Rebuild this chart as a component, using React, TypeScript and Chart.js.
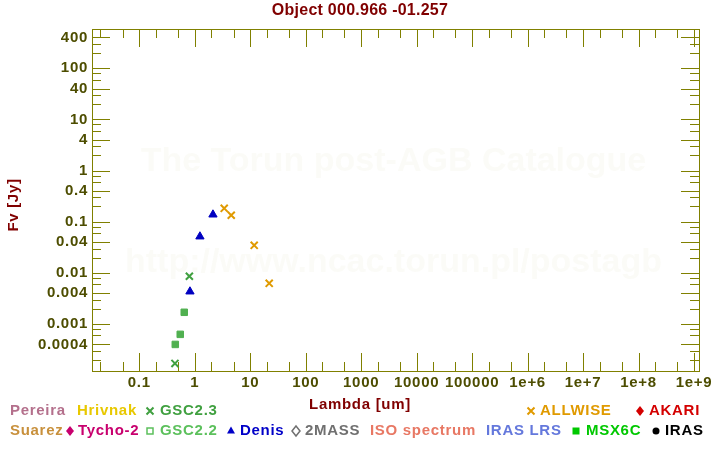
import React, { useEffect, useRef } from 'react';
import { Chart, registerables } from 'chart.js';

Chart.register(...registerables);

// ---- data ----
const denisLambda = [0.82, 1.24, 2.13];
const denisFlux = [0.00432, 0.0514, 0.138];

const gsc23Lambda = [0.44, 0.8];
const gsc23Flux = [0.00017, 0.0086];

const gsc22Lambda = [0.446, 0.548, 0.647];
const gsc22Flux = [0.0004, 0.00063, 0.0017];

const allwiseLambda = [3.4, 4.55, 11.8, 22.0];
const allwiseFlux = [0.183, 0.134, 0.0346, 0.00625];

const xTickValues = [0.1, 1, 10, 100, 1000, 10000, 100000, 1e6, 1e7, 1e8, 1e9];
const xTickLabels = ['0.1', '1', '10', '100', '1000', '10000', '100000', '1e+6', '1e+7', '1e+8', '1e+9'];
const yTickValues = [0.0004, 0.001, 0.004, 0.01, 0.04, 0.1, 0.4, 1, 4, 10, 40, 100, 400];
const yTickLabels = ['0.0004', '0.001', '0.004', '0.01', '0.04', '0.1', '0.4', '1', '4', '10', '40', '100', '400'];

const titleText = 'Object 000.966 -01.257';
const xTitle = 'Lambda [um]';
const yTitle = 'Fv [Jy]';
const watermark1 = 'The Torun post-AGB Catalogue';
const watermark2 = 'http://www.ncac.torun.pl/postagb';

const FONT = "'Liberation Sans', Arial, Helvetica, sans-serif";
const AXIS = '#808000';
const TICKTXT = '#4d4d00';
const DARKRED = '#800000';

function toPoints(xs: number[], ys: number[]) {
  return xs.map((x, i) => ({ x, y: ys[i] }));
}

function setSpacing(ctx: any, v: string) {
  try { ctx.letterSpacing = v; } catch (e) { /* ignore */ }
}

function drawMarker(ctx: CanvasRenderingContext2D, kind: string, x: number, y: number, color: string) {
  ctx.save();
  ctx.fillStyle = color;
  ctx.strokeStyle = color;
  ctx.lineWidth = 2;
  const r = 3.5;
  ctx.beginPath();
  if (kind === 'x') {
    ctx.moveTo(x - r, y - r); ctx.lineTo(x + r, y + r);
    ctx.moveTo(x + r, y - r); ctx.lineTo(x - r, y + r);
    ctx.stroke();
  } else if (kind === 'diamond' || kind === 'diamondOpen') {
    ctx.moveTo(x, y - 5); ctx.lineTo(x + 4, y); ctx.lineTo(x, y + 5); ctx.lineTo(x - 4, y); ctx.closePath();
    if (kind === 'diamond') ctx.fill(); else { ctx.lineWidth = 1.5; ctx.stroke(); }
  } else if (kind === 'square') {
    ctx.rect(x - 3.5, y - 3.5, 7, 7); ctx.fill();
  } else if (kind === 'squareOpen') {
    ctx.lineWidth = 1.5; ctx.rect(x - 3, y - 3, 6, 6); ctx.stroke();
  } else if (kind === 'triangle') {
    ctx.moveTo(x, y - 4.5); ctx.lineTo(x + 4, y + 2.5); ctx.lineTo(x - 4, y + 2.5); ctx.closePath(); ctx.fill();
  } else if (kind === 'circle') {
    ctx.arc(x, y, 3.5, 0, Math.PI * 2); ctx.fill();
  }
  ctx.restore();
}

const decorPlugin = {
  id: 'decor',
  beforeDraw(chart: any) {
    setSpacing(chart.ctx, '0.7px');
  },
  beforeDatasetsDraw(chart: any) {
    const ctx: CanvasRenderingContext2D = chart.ctx;
    const a = chart.chartArea;
    const xs = chart.scales.x;
    const ys = chart.scales.y;
    ctx.save();
    // watermark
    setSpacing(ctx, '0px');
    ctx.fillStyle = 'rgba(235,235,215,0.2)';
    ctx.font = `bold 34px ${FONT}`;
    ctx.textAlign = 'center';
    ctx.textBaseline = 'middle';
    const cx = (a.left + a.right) / 2 - 2;
    ctx.fillText(watermark1, cx, 162);
    ctx.fillText(watermark2, cx, 263);

    // frame
    ctx.strokeStyle = AXIS;
    ctx.lineWidth = 1;
    ctx.strokeRect(a.left + 0.5, a.top + 0.5, a.right - a.left, a.bottom - a.top);

    ctx.beginPath();
    for (let d = -2; d <= 9; d++) {
      for (const m of [1, 2, 5]) {
        const v = m * Math.pow(10, d);
        if (v < xs.min || v > xs.max) continue;
        const px = Math.round(xs.getPixelForValue(v)) + 0.5;
        const len = m === 1 ? 18 : 9;
        ctx.moveTo(px, a.bottom); ctx.lineTo(px, a.bottom - len);
        ctx.moveTo(px, a.top); ctx.lineTo(px, a.top + len);
      }
    }
    for (let d = -5; d <= 3; d++) {
      for (const m of [1, 2, 3, 4, 6, 8]) {
        const v = m * Math.pow(10, d);
        if (v < ys.min || v > ys.max) continue;
        const py = Math.round(ys.getPixelForValue(v)) + 0.5;
        const len = m === 1 || m === 4 ? 18 : 9;
        ctx.moveTo(a.left, py); ctx.lineTo(a.left + len, py);
        ctx.moveTo(a.right, py); ctx.lineTo(a.right - len, py);
      }
    }
    ctx.stroke();
    ctx.restore();
  },
  afterDraw(chart: any) {
    const ctx: CanvasRenderingContext2D = chart.ctx;
    ctx.save();
    ctx.textBaseline = 'middle';
    // title
    setSpacing(ctx, '0.25px');
    ctx.fillStyle = DARKRED;
    ctx.font = `bold 16px ${FONT}`;
    ctx.textAlign = 'center';
    ctx.fillText(titleText, 360, 11);

    setSpacing(ctx, '0.7px');
    ctx.font = `bold 15px ${FONT}`;
    ctx.fillText(xTitle, 360, 405);

    ctx.save();
    ctx.translate(14, 205);
    ctx.rotate(-Math.PI / 2);
    ctx.fillText(yTitle, 0, 0);
    ctx.restore();

    // legend
    ctx.textAlign = 'left';
    const r1 = 411;
    const r2 = 431;
    const items: [string, string, number, number, string, number][] = [
      ['Pereira', '#b4708c', 10, r1, '', 0],
      ['Hrivnak', '#e8c800', 77, r1, '', 0],
      ['GSC2.3', '#40a040', 160, r1, 'x', 150],
      ['ALLWISE', '#e09a00', 540, r1, 'x', 531],
      ['AKARI', '#d40000', 649, r1, 'diamond', 640],
      ['Suarez', '#c8903c', 10, r2, '', 0],
      ['Tycho-2', '#c8006e', 78, r2, 'diamond', 70],
      ['GSC2.2', '#5cc05c', 160, r2, 'squareOpen', 150],
      ['Denis', '#0000c8', 240, r2, 'triangle', 231],
      ['2MASS', '#707070', 305, r2, 'diamondOpen', 296],
      ['ISO spectrum', '#e87864', 370, r2, '', 0],
      ['IRAS LRS', '#6478dc', 486, r2, '', 0],
      ['MSX6C', '#00c800', 586, r2, 'square', 576],
      ['IRAS', '#000000', 665, r2, 'circle', 656],
    ];
    for (const [name, color, tx, ty, mk, mx] of items) {
      ctx.fillStyle = color;
      ctx.fillText(name, tx, ty);
      if (mk) drawMarker(ctx, mk, mx, ty, color);
    }
    ctx.restore();
  },
};

export default function App() {
  const ref = useRef<HTMLCanvasElement | null>(null);
  useEffect(() => {
    if (!ref.current) return;
    const tickFont = { family: FONT, size: 15, weight: 'bold' as const };
    const chart = new Chart(ref.current, {
      type: 'scatter',
      data: {
        datasets: [
          {
            label: 'GSC2.2',
            data: toPoints(gsc22Lambda, gsc22Flux),
            pointStyle: 'rect',
            pointRadius: 4.6,
            backgroundColor: '#50b050',
            borderColor: '#50b050',
            borderWidth: 1,
          },
          {
            label: 'GSC2.3',
            data: toPoints(gsc23Lambda, gsc23Flux),
            pointStyle: 'crossRot',
            pointRadius: 5,
            borderColor: '#40a040',
            backgroundColor: '#40a040',
            borderWidth: 2,
          },
          {
            label: 'Denis',
            data: toPoints(denisLambda, denisFlux),
            pointStyle: 'triangle',
            pointRadius: 4.8,
            backgroundColor: '#0000c0',
            borderColor: '#0000c0',
            borderWidth: 1,
          },
          {
            label: 'ALLWISE',
            data: toPoints(allwiseLambda, allwiseFlux),
            pointStyle: 'crossRot',
            pointRadius: 5,
            borderColor: '#e09a00',
            backgroundColor: '#e09a00',
            borderWidth: 2,
          },
        ],
      },
      options: {
        animation: false,
        responsive: false,
        devicePixelRatio: 1,
        layout: { padding: { top: 29, right: 21, left: 0, bottom: 0 } },
        plugins: { legend: { display: false }, title: { display: false }, tooltip: { enabled: false } },
        scales: {
          x: {
            type: 'logarithmic',
            position: 'bottom',
            min: 0.01406,
            max: 1.23e9,
            bounds: 'data',
            grid: { display: false, drawTicks: false },
            border: { display: false },
            afterBuildTicks: (s: any) => {
              s.ticks = xTickValues.map((v) => ({ value: v }));
            },
            afterFit: (s: any) => {
              s.height = 79;
            },
            ticks: {
              autoSkip: false,
              maxRotation: 0,
              minRotation: 0,
              padding: 3,
              color: TICKTXT,
              font: tickFont,
              callback: (_v: any, i: number) => xTickLabels[i],
            },
          },
          y: {
            type: 'logarithmic',
            position: 'left',
            min: 0.000121,
            max: 586,
            bounds: 'data',
            grid: { display: false, drawTicks: false },
            border: { display: false },
            afterBuildTicks: (s: any) => {
              s.ticks = yTickValues.map((v) => ({ value: v }));
            },
            afterFit: (s: any) => {
              s.width = 92;
            },
            ticks: {
              autoSkip: false,
              padding: 4,
              color: TICKTXT,
              font: tickFont,
              callback: (_v: any, i: number) => yTickLabels[i],
            },
          },
        },
      },
      plugins: [decorPlugin],
    } as any);
    return () => chart.destroy();
  }, []);
  return (
    <div style={{ position: 'absolute', left: 0, top: 0, width: 720, height: 450, background: '#fff' }}>
      <canvas ref={ref} width={720} height={450} style={{ width: 720, height: 450, display: 'block' }} />
    </div>
  );
}
